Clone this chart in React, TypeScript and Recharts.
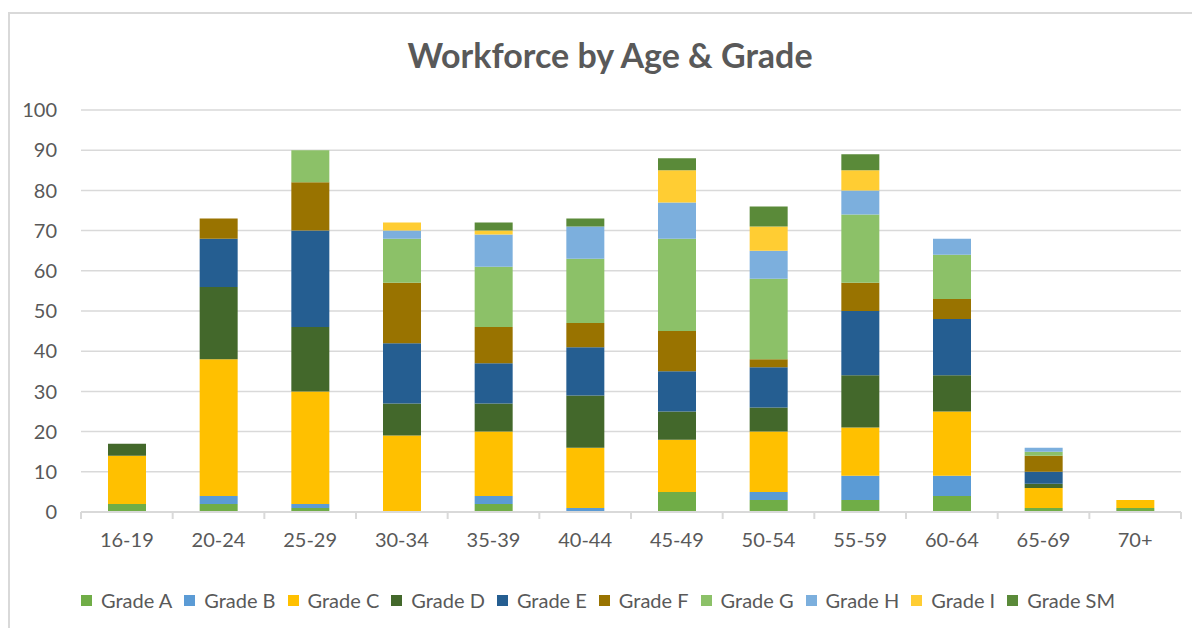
import { BarChart, Bar, XAxis, YAxis, CartesianGrid, Legend } from "recharts";

const ages = ["16-19", "20-24", "25-29", "30-34", "35-39", "40-44", "45-49", "50-54", "55-59", "60-64", "65-69", "70+"];

const gradeA = [2, 2, 1, 0, 2, 0, 5, 3, 3, 4, 1, 1];
const gradeB = [0, 2, 1, 0, 2, 1, 0, 2, 6, 5, 0, 0];
const gradeC = [12, 34, 28, 19, 16, 15, 13, 15, 12, 16, 5, 2];
const gradeD = [3, 18, 16, 8, 7, 13, 7, 6, 13, 9, 1, 0];
const gradeE = [0, 12, 24, 15, 10, 12, 10, 10, 16, 14, 3, 0];
const gradeF = [0, 5, 12, 15, 9, 6, 10, 2, 7, 5, 4, 0];
const gradeG = [0, 0, 8, 11, 15, 16, 23, 20, 17, 11, 1, 0];
const gradeH = [0, 0, 0, 2, 8, 8, 9, 7, 6, 4, 1, 0];
const gradeI = [0, 0, 0, 2, 1, 0, 8, 6, 5, 0, 0, 0];
const gradeSM = [0, 0, 0, 0, 2, 2, 3, 5, 4, 0, 0, 0];

const yTicks = [0, 10, 20, 30, 40, 50, 60, 70, 80, 90, 100];

const series = [
  { key: "Grade A", values: gradeA, color: "#70AD47" },
  { key: "Grade B", values: gradeB, color: "#5B9BD5" },
  { key: "Grade C", values: gradeC, color: "#FFC000" },
  { key: "Grade D", values: gradeD, color: "#43682B" },
  { key: "Grade E", values: gradeE, color: "#255E91" },
  { key: "Grade F", values: gradeF, color: "#997300" },
  { key: "Grade G", values: gradeG, color: "#8CC168" },
  { key: "Grade H", values: gradeH, color: "#7CAFDD" },
  { key: "Grade I", values: gradeI, color: "#FFCD33" },
  { key: "Grade SM", values: gradeSM, color: "#5A8A39" },
];

const data = ages.map((age, i) => {
  const row: Record<string, string | number> = { age };
  series.forEach((s) => (row[s.key] = s.values[i]));
  return row;
});

const FONT = "Lato, 'Open Sans', sans-serif";
const TEXT = "#595959";
const GRID = "#d9d9d9";

// category labels plus tick marks on the band edges, like Excel
const AgeTick = (props: any) => {
  const { x, y, payload, index, width, visibleTicksCount } = props;
  const band = width / visibleTicksCount;
  const left = x - band / 2;
  return (
    <g>
      <line x1={left} x2={left} y1={y} y2={y + 7} stroke={GRID} strokeWidth={2} />
      {index === visibleTicksCount - 1 && (
        <line x1={left + band} x2={left + band} y1={y} y2={y + 7} stroke={GRID} strokeWidth={2} />
      )}
      <text x={x} y={y + 30} textAnchor="middle" dominantBaseline="middle" fill={TEXT} fontSize={20} fontFamily={FONT}>
        {payload.value}
      </text>
    </g>
  );
};

const renderLegend = () => (
  <div style={{ display: "flex", justifyContent: "center", fontFamily: FONT, fontSize: 20, color: TEXT }}>
    {series.map((s) => (
      <div key={s.key} style={{ display: "flex", alignItems: "center", marginRight: 12 }}>
        <span style={{ width: 11, height: 11, background: s.color, marginRight: 9, display: "inline-block" }} />
        <span>{s.key}</span>
      </div>
    ))}
  </div>
);

export default function App() {
  return (
    <div style={{ position: "relative", width: 1192, height: 620, overflow: "hidden", background: "#fff" }}>
      <div
        style={{
          position: "absolute",
          top: 4,
          left: 0,
          width: 1300,
          height: 700,
          border: `2px solid ${GRID}`,
          boxSizing: "border-box",
        }}
      />
      <div
        style={{
          position: "absolute",
          top: 26,
          left: 0,
          width: 1204,
          textAlign: "center",
          fontFamily: FONT,
          fontWeight: 700,
          fontSize: 34,
          color: TEXT,
        }}
      >
        Workforce by Age &amp; Grade
      </div>
      <div style={{ position: "absolute", top: 0, left: 0 }}>
        <BarChart
          width={1192}
          height={620}
          data={data}
          margin={{ top: 102, right: 19, bottom: 42, left: 0 }}
          barCategoryGap={27}
        >
          <CartesianGrid vertical={false} stroke={GRID} strokeWidth={1.5} />
          <XAxis
            dataKey="age"
            axisLine={{ stroke: GRID, strokeWidth: 2 }}
            tickLine={false}
            tickSize={0}
            tickMargin={0}
            tick={<AgeTick />}
            interval={0}
            height={50}
          />
          <YAxis
            domain={[0, 100]}
            ticks={yTicks}
            axisLine={false}
            tickLine={false}
            tickSize={0}
            tickMargin={24}
            width={73}
            tick={{ fill: TEXT, fontSize: 20, fontFamily: FONT }}
          />
          <Legend content={renderLegend} wrapperStyle={{ position: "absolute", top: 580, left: 0, width: 1192 }} />
          {series.map((s) => (
            <Bar key={s.key} dataKey={s.key} stackId="a" fill={s.color} isAnimationActive={false} />
          ))}
        </BarChart>
      </div>
    </div>
  );
}
